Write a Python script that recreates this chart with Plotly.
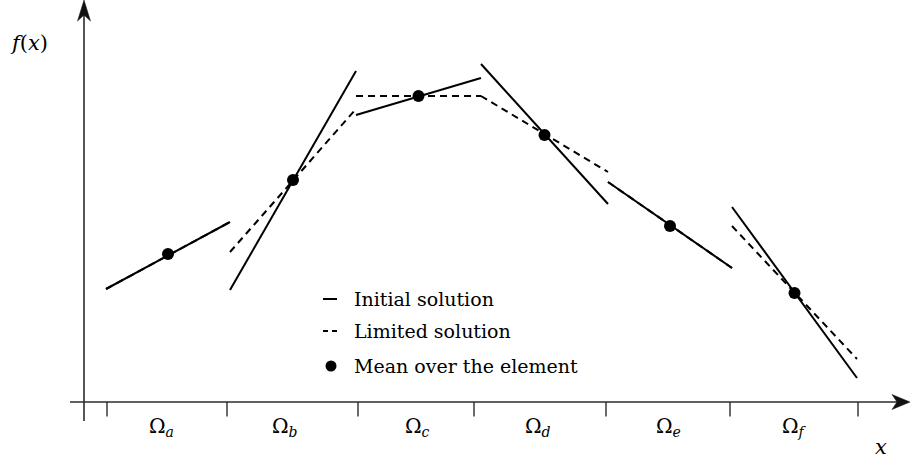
import plotly.graph_objects as go

# Elements and their edges along x
elements = ["a", "b", "c", "d", "e", "f"]
edges = [0.22, 1.46, 2.72, 3.97, 5.24, 6.48, 7.73]
ticks = [0.23, 1.43, 2.74, 3.90, 5.22, 6.46, 7.74]

# Linear solution in each element: value at left / right edge
initial_left = [1.13, 1.12, 2.87, 3.38, 2.20, 1.95]
initial_right = [1.80, 3.31, 3.24, 1.98, 1.34, 0.24]
limited_left = [1.13, 1.50, 3.06, 3.06, 2.20, 1.76]
limited_right = [1.80, 2.93, 3.06, 2.30, 1.34, 0.43]
means = [1.48, 2.22, 3.06, 2.67, 1.76, 1.09]

legend_labels = ["Initial solution", "Limited solution", "Mean over the element"]

INK = "black"
AXIS = "#2b2b2b"
FONT = "DejaVu Serif"


def segments(left, right):
    xs, ys = [], []
    for i in range(len(left)):
        xs += [edges[i], edges[i + 1], None]
        ys += [left[i], right[i], None]
    return xs, ys


fig = go.Figure()

# axes with arrow heads
fig.add_trace(go.Scatter(x=[0, 0, None, -0.14, 8.15], y=[-0.19, 3.9, None, 0, 0],
                         mode="lines", line=dict(color=AXIS, width=1.6),
                         hoverinfo="skip", showlegend=False))
fig.add_trace(go.Scatter(x=[0, -0.065, 0, 0.065, 0], y=[4.02, 3.81, 3.87, 3.81, 4.02],
                         mode="lines", fill="toself", fillcolor="#111",
                         line=dict(color="#111", width=0.5),
                         hoverinfo="skip", showlegend=False))
fig.add_trace(go.Scatter(x=[8.26, 8.08, 8.13, 8.08, 8.26], y=[0, 0.075, 0, -0.075, 0],
                         mode="lines", fill="toself", fillcolor="#111",
                         line=dict(color="#111", width=0.5),
                         hoverinfo="skip", showlegend=False))

# element boundary ticks
tx, ty = [], []
for t in ticks:
    tx += [t, t, None]
    ty += [0, -0.145, None]
fig.add_trace(go.Scatter(x=tx, y=ty, mode="lines", line=dict(color=AXIS, width=1.4),
                         hoverinfo="skip", showlegend=False))

# limited (dashed) under initial (solid)
lx, ly = segments(limited_left, limited_right)
fig.add_trace(go.Scatter(x=lx, y=ly, mode="lines",
                         line=dict(color=INK, width=2, dash="7px,5px"),
                         showlegend=False))
ix, iy = segments(initial_left, initial_right)
fig.add_trace(go.Scatter(x=ix, y=iy, mode="lines",
                         line=dict(color=INK, width=2), showlegend=False))

centers = [(edges[i] + edges[i + 1]) / 2 for i in range(len(elements))]
fig.add_trace(go.Scatter(x=centers, y=means, mode="markers",
                         marker=dict(color=INK, size=12), showlegend=False))

# hand-placed key
key_x0, key_x1, key_text_x = 2.39, 2.53, 2.68
key_y = [1.03, 0.71, 0.36]
fig.add_trace(go.Scatter(x=[key_x0, key_x1], y=[key_y[0]] * 2, mode="lines",
                         line=dict(color=INK, width=2), showlegend=False))
fig.add_trace(go.Scatter(x=[key_x0, key_x1], y=[key_y[1]] * 2, mode="lines",
                         line=dict(color=INK, width=2, dash="5px,4px"), showlegend=False))
fig.add_trace(go.Scatter(x=[key_x0 + 0.08], y=[key_y[2]], mode="markers",
                         marker=dict(color=INK, size=11), showlegend=False))

annotations = []
for lab, yv in zip(legend_labels, key_y):
    annotations.append(dict(x=key_text_x, y=yv, text=lab, showarrow=False,
                            xanchor="left", yanchor="middle",
                            font=dict(family=FONT, size=19, color=INK)))

label_x = [0.77, 2.01, 3.33, 4.54, 5.84, 7.10]
for name, xv in zip(elements, label_x):
    annotations.append(dict(x=xv, y=-0.25, text=f"Ω<sub><i>{name}</i></sub>",
                            showarrow=False, xanchor="center", yanchor="middle",
                            font=dict(family=FONT, size=20, color=INK)))

annotations.append(dict(x=-0.55, y=3.59, text="<i>f</i>(<i>x</i>)", showarrow=False,
                        xanchor="center", yanchor="middle",
                        font=dict(family=FONT, size=21, color=INK)))
annotations.append(dict(x=7.97, y=-0.45, text="<i>x</i>", showarrow=False,
                        xanchor="center", yanchor="middle",
                        font=dict(family=FONT, size=21, color=INK)))

fig.update_layout(
    width=911, height=458,
    margin=dict(l=0, r=0, t=0, b=0),
    paper_bgcolor="white", plot_bgcolor="white",
    xaxis=dict(visible=False, range=[-0.84, 8.27], fixedrange=True),
    yaxis=dict(visible=False, range=[-0.56, 4.02], fixedrange=True),
    annotations=annotations,
)

fig.write_html("out.html")
